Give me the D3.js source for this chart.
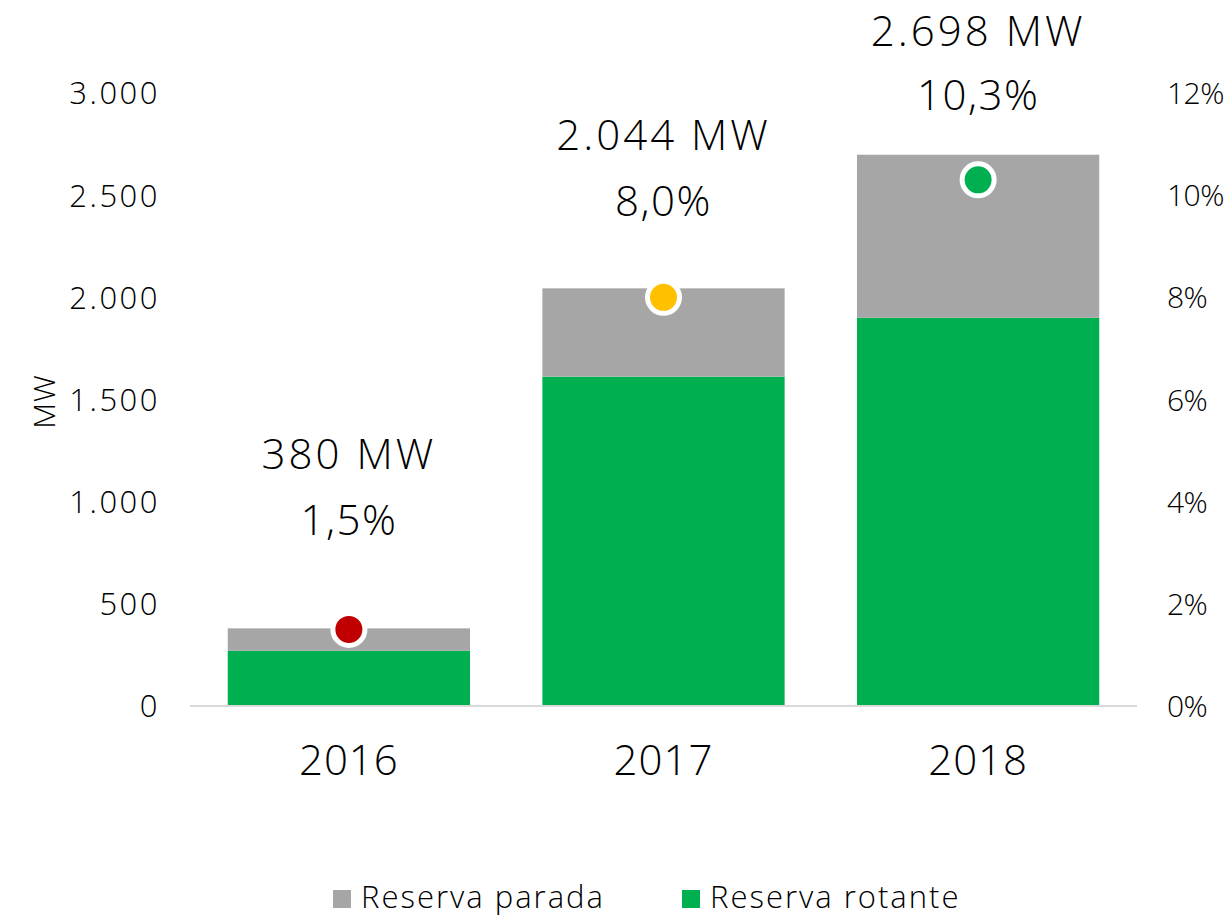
<!DOCTYPE html>
<html>
<head>
<meta charset="utf-8">
<script src="https://cdn.jsdelivr.net/npm/d3@7"></script>
<style>
  body { margin: 0; background: #fff; }
  svg text { font-family: "Open Sans", "Noto Sans", sans-serif; font-weight: 300; fill: #000; }
</style>
</head>
<body>
<svg id="chart" width="1231" height="917"></svg>
<script>
// data
const years = ['2016', '2017', '2018'];
const rotante = [270, 1612, 1900];
const parada = [110, 432, 798];
const totalLabels = ['380 MW', '2.044 MW', '2.698 MW'];
const pctValues = [1.5, 8.0, 10.3];
const pctLabels = ['1,5%', '8,0%', '10,3%'];
const dotColors = ['#c00000', '#ffc000', '#00b050'];
const mwTicks = [0, 500, 1000, 1500, 2000, 2500, 3000];
const pctTicks = [0, 2, 4, 6, 8, 10, 12];

const green = '#00b050', grey = '#a6a6a6';

const svg = d3.select('#chart');
const plotLeft = 190, plotRight = 1137, plotTop = 93, plotBottom = 706;

const x = d3.scaleBand()
    .domain(years)
    .range([plotLeft, plotRight])
    .paddingInner(0.23)
    .paddingOuter(0.12);

const y = d3.scaleLinear().domain([0, 3000]).range([plotBottom, plotTop]);
const y2 = d3.scaleLinear().domain([0, 12]).range([plotBottom, plotTop]);

const fmt = d3.formatLocale({ decimal: ',', thousands: '.', grouping: [3], currency: ['', ''] }).format(',');

// left axis
const yAxis = svg.append('g')
    .attr('transform', `translate(${plotLeft - 30},0)`)
    .call(d3.axisLeft(y).tickValues(mwTicks).tickFormat(fmt).tickSize(0).tickPadding(0));
yAxis.select('.domain').remove();
yAxis.selectAll('text').style('font-size', '31px').style('letter-spacing', '2.5px').attr('dy', '0.35em');

// right axis
const yAxis2 = svg.append('g')
    .attr('transform', `translate(${plotRight + 30},0)`)
    .call(d3.axisRight(y2).tickValues(pctTicks).tickFormat(d => d + '%').tickSize(0).tickPadding(0));
yAxis2.select('.domain').remove();
yAxis2.selectAll('text').style('font-size', '30px').style('letter-spacing', '-0.5px').attr('dy', '0.35em');

// y title
svg.append('text')
    .attr('transform', `translate(55,${y(1500) + 2}) rotate(-90)`)
    .attr('text-anchor', 'middle')
    .style('font-size', '30px')
    .style('letter-spacing', '1px')
    .text('MW');

// stacked bars
const stacked = years.map((yr, i) => ({ year: yr, r: rotante[i], p: parada[i] }));
const series = d3.stack().keys(['r', 'p'])(stacked);
const colors = { r: green, p: grey };

svg.append('g').selectAll('g')
    .data(series)
    .join('g')
    .attr('fill', d => colors[d.key])
    .selectAll('rect')
    .data(d => d)
    .join('rect')
    .attr('x', d => x(d.data.year))
    .attr('width', x.bandwidth())
    .attr('y', d => y(d[1]))
    .attr('height', d => y(d[0]) - y(d[1]));

// baseline
svg.append('line')
    .attr('x1', plotLeft).attr('x2', plotRight)
    .attr('y1', y(0)).attr('y2', y(0))
    .attr('stroke', '#d9d9d9').attr('stroke-width', 2);

// x labels
svg.append('g').selectAll('text')
    .data(years)
    .join('text')
    .attr('x', d => x(d) + x.bandwidth() / 2)
    .attr('y', y(0) + 54)
    .attr('dy', '0.35em')
    .attr('text-anchor', 'middle')
    .style('font-size', '42px')
    .style('letter-spacing', '1px')
    .text(d => d);

// percentage dots
svg.append('g').selectAll('circle')
    .data(years)
    .join('circle')
    .attr('cx', d => x(d) + x.bandwidth() / 2)
    .attr('cy', (d, i) => y2(pctValues[i]))
    .attr('r', 16)
    .attr('fill', (d, i) => dotColors[i])
    .attr('stroke', '#fff')
    .attr('stroke-width', 5);

// total + pct labels above bars
const lift = [174, 153, 123];
const gap = [66, 66, 64];
years.forEach((yr, i) => {
    const cx = x(yr) + x.bandwidth() / 2;
    const ty = y(rotante[i] + parada[i]) - lift[i];
    svg.append('text')
        .attr('x', cx).attr('y', ty).attr('dy', '0.35em')
        .attr('text-anchor', 'middle')
        .style('font-size', '42px').style('letter-spacing', '3px')
        .text(totalLabels[i]);
    svg.append('text')
        .attr('x', cx).attr('y', ty + gap[i]).attr('dy', '0.35em')
        .attr('text-anchor', 'middle')
        .style('font-size', '42px').style('letter-spacing', '1.5px')
        .text(pctLabels[i]);
});

// legend
const legendItems = [
    { name: 'Reserva parada', color: grey, x: 333 },
    { name: 'Reserva rotante', color: green, x: 682 }
];
const lg = svg.append('g').selectAll('g')
    .data(legendItems)
    .join('g')
    .attr('transform', d => `translate(${d.x},890)`);
lg.append('rect').attr('width', 18).attr('height', 18).attr('fill', d => d.color);
lg.append('text')
    .attr('x', 28).attr('y', 18)
    .style('font-size', '31px')
    .style('letter-spacing', '2px')
    .text(d => d.name);
</script>
</body>
</html>
